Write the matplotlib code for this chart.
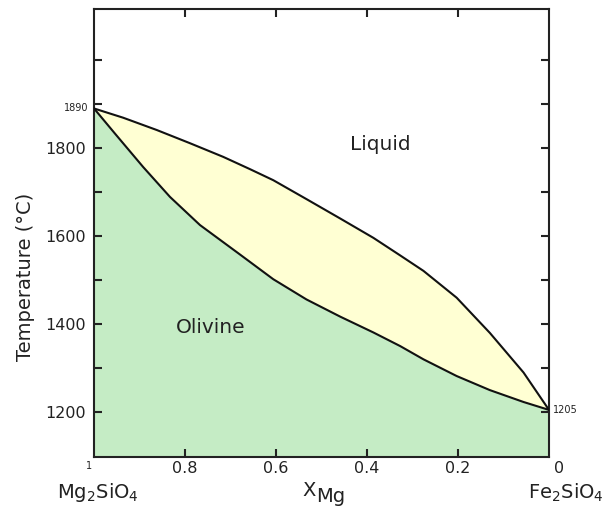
import matplotlib
matplotlib.use("Agg")
import matplotlib.pyplot as plt

# Liquidus (upper curve): X_Mg vs temperature
liq_x = [1.0, 0.936, 0.862, 0.789, 0.716, 0.657, 0.606, 0.533, 0.459, 0.386,
         0.327, 0.276, 0.203, 0.130, 0.056, 0.0]
liq_t = [1890, 1869, 1841, 1811, 1780, 1752, 1727, 1684, 1640, 1596,
         1556, 1521, 1460, 1380, 1290, 1205]
# Solidus (lower curve)
sol_x = [1.0, 0.954, 0.892, 0.833, 0.767, 0.679, 0.606, 0.533, 0.459, 0.386,
         0.327, 0.276, 0.203, 0.130, 0.056, 0.0]
sol_t = [1890, 1833, 1757, 1689, 1625, 1558, 1502, 1456, 1417, 1381,
         1350, 1320, 1282, 1250, 1223, 1205]

y_major = [1200, 1400, 1600, 1800]
y_all = [1200, 1300, 1400, 1500, 1600, 1700, 1800, 1900, 2000]
x_ticks = [0.8, 0.6, 0.4, 0.2]
x_labels = ["0.8", "0.6", "0.4", "0.2"]

fig = plt.figure(figsize=(6.03, 5.12), dpi=100)
ax = fig.add_axes([94/603, 1-457/512, (549-94)/603, (457-9)/512])
ymin, ymax = 1098, 2116
ax.set_xlim(1, 0)
ax.set_ylim(ymin, ymax)

green = "#c5ecc5"
yellow = "#ffffd3"
ax.fill_between(liq_x, ymin, liq_t, color=yellow, lw=0, zorder=0.5)
ax.fill_between(sol_x, ymin, sol_t, color=green, lw=0, zorder=0.6)
ax.plot(liq_x, liq_t, color="#111111", lw=1.5, zorder=3,
        solid_joinstyle="round", solid_capstyle="round")
ax.plot(sol_x, sol_t, color="#111111", lw=1.5, zorder=3,
        solid_joinstyle="round", solid_capstyle="round")

for s in ax.spines.values():
    s.set_linewidth(1.5)
    s.set_color("#222222")

ax.set_yticks(y_all)
ax.set_yticklabels([str(v) if v in y_major else "" for v in y_all], fontsize=11.5, color="#222222")
ax.set_xticks(x_ticks)
ax.set_xticklabels(x_labels, fontsize=11.5, color="#222222")
ax.tick_params(direction="in", length=6, width=1.5, color="#222222",
               top=True, right=True, pad=6)
ax.tick_params(axis="x", pad=3)

ax.text(-0.012, 1890, "1890", transform=ax.get_yaxis_transform(), ha="right",
        va="center", fontsize=7, color="#222222")
ax.text(1.008, 1205, "1205", transform=ax.get_yaxis_transform(), ha="left",
        va="center", fontsize=7, color="#222222")
ax.text(-0.012, -0.020, "1", transform=ax.transAxes, ha="center", va="center",
        fontsize=7, color="#222222")
ax.text(1.022, -0.025, "0", transform=ax.transAxes, ha="center", va="center",
        fontsize=11.5, color="#222222")

ax.set_ylabel("Temperature (°C)", fontsize=14, color="#222222")
ax.yaxis.set_label_coords(-0.13, 0.402)
fig.text(309/603, 1-490/512, "X", ha="center", va="center",
         fontsize=14, color="#222222")
fig.text(331/603, 1-497/512, "Mg", ha="center", va="center",
         fontsize=14, color="#222222")
fig.text(98/603, 1-492/512, r"Mg$_2$SiO$_4$", ha="center", va="center",
         fontsize=14, color="#222222")
fig.text(566/603, 1-493/512, r"Fe$_2$SiO$_4$", ha="center", va="center",
         fontsize=14, color="#222222")

ax.text(0.371, 1807, "Liquid", ha="center", va="center", fontsize=14.5, color="#222222")
ax.text(0.743, 1393, "Olivine", ha="center", va="center", fontsize=14.5, color="#222222")

fig.savefig("out.png", dpi=100)
